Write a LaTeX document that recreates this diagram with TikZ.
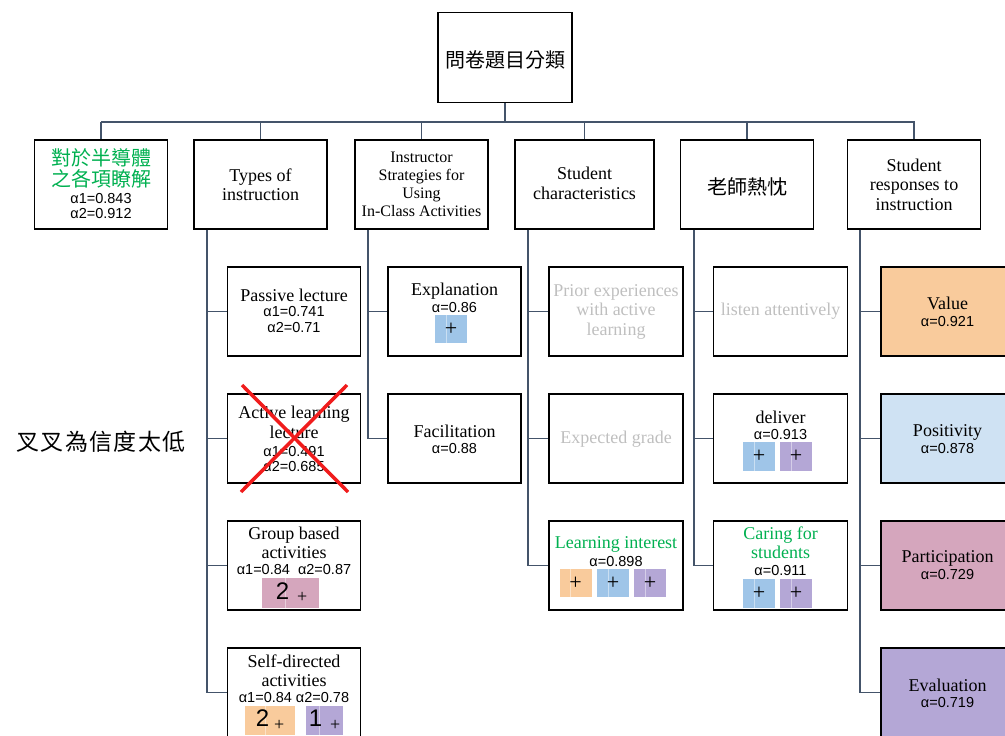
\documentclass[tikz,border=0pt]{standalone}
\usepackage{fontspec}
\setmainfont{Liberation Serif}
\setsansfont{Liberation Sans}
\newfontfamily\cjk{Noto Sans CJK TC}
\newfontfamily\cjkw[LetterSpace=6]{Noto Sans CJK TC}
\definecolor{connc}{HTML}{44546A}
\definecolor{gtxt}{HTML}{00B050}
\definecolor{greyt}{HTML}{BFBFBF}
\definecolor{orf}{HTML}{F9CB9C}
\definecolor{blf}{HTML}{9FC5E8}
\definecolor{puf}{HTML}{B4A7D6}
\definecolor{pkf}{HTML}{D5A6BD}
\definecolor{lbf}{HTML}{CFE2F3}
\definecolor{redx}{HTML}{F01C1C}
\begin{document}
\begin{tikzpicture}[x=1pt,y=-1pt,
  box/.style={draw=black, line width=1.8pt, minimum width=133pt, minimum height=89pt, inner sep=0pt},
  conn/.style={draw=connc, line width=1.8pt},
  tt/.style={font=\fontsize{18}{19.5}\selectfont, align=center, inner sep=0pt},
  ts/.style={font=\fontsize{16}{18}\selectfont, align=center, inner sep=0pt},
  al/.style={font=\sffamily\fontsize{14.5}{15.5}\selectfont, align=center, inner sep=0pt},
  cj/.style={font=\cjk\fontsize{20}{21}\selectfont, align=center, inner sep=0pt},
  sq/.style={minimum width=32pt, minimum height=28pt, inner sep=0pt, font=\fontsize{22}{22}\selectfont,
    path picture={\draw[white,opacity=0.45,line width=0.6pt] ([xshift=-5pt]path picture bounding box.north) -- ([xshift=-5pt]path picture bounding box.south);}}
]
\useasboundingbox (0,0) rectangle (1005,736);
\clip (0,0) rectangle (1005,736);

% root
\node[box, minimum width=134pt, minimum height=90pt] (root) at (505,57.5) {};
\node[cj] (roott) at (505,60) {問卷題目分類};

% level 1
\node[box] (L1a) at (101,184.5) {};
\node[box] (L1b) at (260.5,184.5) {};
\node[box] (L1c) at (421.5,184.5) {};
\node[box, minimum width=139pt] (L1d) at (584.5,184.5) {};
\node[box] (L1e) at (747,184.5) {};
\node[box] (L1f) at (914,184.5) {};

\node[cj, text=gtxt] (L1at) at (101,168.5) {對於半導體\\之各項瞭解};
\node[al] (L1aa) at (101,206) {α1=0.843\\α2=0.912};
\node[tt] (L1bt) at (260.5,184.5) {Types of\\instruction};
\node[ts] (L1ct) at (421.5,184) {Instructor\\Strategies for\\Using\\In-Class Activities};
\node[tt] (L1dt) at (584.5,183.5) {Student\\characteristics};
\node[cj] (L1et) at (747,187) {老師熱忱};
\node[tt] (L1ft) at (914,184.5) {Student\\responses to\\instruction};

% bus
\coordinate (busL) at (101,122);
\coordinate (busR) at (915,122);
\draw[conn] (root.south) -- (root.south |- busL);
\draw[conn] (busL) -- (busR);
\foreach \n in {L1a,L1b,L1c,L1d,L1e,L1f}{\draw[conn] (\n.north) -- (\n.north |- busL);}

% Types of instruction children
\node[box] (c11) at (294,311.5) {};
\node[box] (c12) at (294,438.5) {};
\node[box] (c13) at (294,565.5) {};
\node[box] (c14) at (294,692.5) {};
\node[tt] (c11t) at (294,295) {Passive lecture};
\node[al] (c11a) at (294,319.5) {α1=0.741\\α2=0.71};
\node[tt] (c12t) at (294,422.5) {Active learning\\lecture};
\node[al] (c12a) at (294,459) {α1=0.491\\α2=0.685};
\node[tt] (c13t) at (294,543) {Group based\\activities};
\node[al] (c13a) at (294,570) {α1=0.84\ \ α2=0.87};
\node[sq, fill=pkf, minimum width=57pt, minimum height=30pt] (c13s) at (290.5,593) {\hspace{2pt}{\sffamily\fontsize{24}{24}\selectfont 2}\hspace{8pt}\raisebox{-3pt}{\fontsize{18}{18}\selectfont +}};
\node[tt] (c14t) at (294,670.5) {Self-directed\\activities};
\node[al] (c14a) at (294,698) {α1=0.84 α2=0.78};
\node[sq, fill=orf, minimum width=50pt, minimum height=29pt] (c14s1) at (270,720.5) {{\sffamily\fontsize{24}{24}\selectfont 2}\hspace{5pt}\raisebox{-4pt}{\fontsize{18}{18}\selectfont +}};
\node[sq, fill=puf, minimum width=37pt, minimum height=29pt] (c14s2) at (324.5,720.5) {{\sffamily\fontsize{24}{24}\selectfont 1}\hspace{8pt}\raisebox{-4pt}{\fontsize{18}{18}\selectfont +}};

% red cross
\draw[redx, line width=3.5pt] (242,385) -- (348,492);
\draw[redx, line width=3.5pt] (347,385) -- (241,492);

% Instructor strategies children
\node[box] (c21) at (454.5,311.5) {};
\node[box] (c22) at (454.5,438.5) {};
\node[tt] (c21t) at (454.5,291) {Explanation};
\node[al] (c21a) at (454.5,308) {α=0.86};
\node[sq, fill=blf] (c21s) at (451,329) {+};
\node[tt] (c22t) at (454.5,431) {Facilitation};
\node[al] (c22a) at (454.5,449) {α=0.88};

% Student characteristics children
\node[box, minimum width=134pt] (c31) at (616,311.5) {};
\node[box, minimum width=134pt] (c32) at (616,438.5) {};
\node[box, minimum width=134pt] (c33) at (616,565.5) {};
\node[tt, text=greyt] (c31t) at (616,311.5) {Prior experiences\\with active\\learning};
\node[tt, text=greyt] (c32t) at (616,439) {Expected grade};
\node[tt, text=gtxt] (c33t) at (616,544) {Learning interest};
\node[al] (c33a) at (616,562) {α=0.898};
\node[sq, fill=orf] (c33s1) at (575.5,583) {+};
\node[sq, fill=blf] (c33s2) at (613,583) {+};
\node[sq, fill=puf] (c33s3) at (650,583) {+};

% 老師熱忱 children
\node[box, minimum width=134pt] (c41) at (780.5,311.5) {};
\node[box, minimum width=134pt] (c42) at (780.5,438.5) {};
\node[box, minimum width=134pt] (c43) at (780.5,565.5) {};
\node[tt, text=greyt] (c41t) at (780.5,311) {listen attentively};
\node[tt] (c42t) at (780.5,417) {deliver};
\node[al] (c42a) at (780.5,435) {α=0.913};
\node[sq, fill=blf, minimum height=29pt] (c42s1) at (759,456.5) {+};
\node[sq, fill=puf, minimum height=29pt] (c42s2) at (796,456.5) {+};
\node[tt, text=gtxt] (c43t) at (780.5,542.5) {Caring for\\students};
\node[al] (c43a) at (780.5,571) {α=0.911};
\node[sq, fill=blf, minimum height=29pt] (c43s1) at (759,593.5) {+};
\node[sq, fill=puf, minimum height=29pt] (c43s2) at (796,593.5) {+};

% Student responses children
\node[box, fill=orf] (c51) at (947.5,311.5) {};
\node[box, fill=lbf] (c52) at (947.5,438.5) {};
\node[box, fill=pkf] (c53) at (947.5,565.5) {};
\node[box, fill=puf] (c54) at (947.5,692.5) {};
\node[tt] (c51t) at (947.5,303) {Value};
\node[al] (c51a) at (947.5,322) {α=0.921};
\node[tt] (c52t) at (947.5,432) {Positivity};
\node[al] (c52a) at (947.5,449) {α=0.878};
\node[tt] (c53t) at (947.5,558) {Participation};
\node[al] (c53a) at (947.5,575) {α=0.729};
\node[tt] (c54t) at (947.5,685) {Evaluation};
\node[al] (c54a) at (947.5,703) {α=0.719};

% child connectors
\coordinate (b2) at ([xshift=13.5pt]L1b.south west);
\coordinate (b3) at ([xshift=13.5pt]L1c.south west);
\coordinate (b4) at ([xshift=14pt]L1d.south west);
\coordinate (b5) at ([xshift=14pt]L1e.south west);
\coordinate (b6) at ([xshift=13pt]L1f.south west);
\foreach \c in {c11,c12,c13,c14}{\draw[conn] (b2) |- (\c.west);}
\foreach \c in {c21,c22}{\draw[conn] (b3) |- (\c.west);}
\foreach \c in {c31,c32,c33}{\draw[conn] (b4) |- (\c.west);}
\foreach \c in {c41,c42,c43}{\draw[conn] (b5) |- (\c.west);}
\foreach \c in {c51,c52,c53,c54}{\draw[conn] (b6) |- (\c.west);}

% side label
\node[font=\cjkw\fontsize{23}{23}\selectfont, inner sep=0pt] (side) at (101,442) {叉叉為信度太低};
\end{tikzpicture}
\end{document}
